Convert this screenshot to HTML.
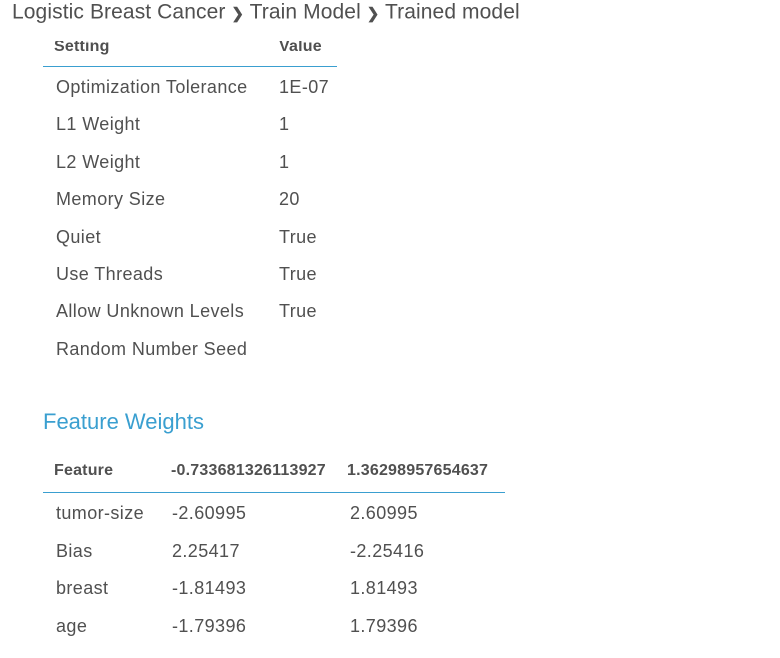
<!DOCTYPE html>
<html><head><meta charset="utf-8"><style>
body{margin:0;width:780px;height:658px;overflow:hidden;background:#fff;font-family:"Liberation Sans",sans-serif;color:#444;position:relative}
.t{position:absolute;white-space:nowrap;line-height:1;transform:translateY(-50%)}
.r{font-size:18px;color:#505050;letter-spacing:0.4px}
.h{font-size:16px;font-weight:bold;color:#505050;letter-spacing:0.2px}
.line{position:absolute;height:1px;background:#3a9fd0}
.bc{left:12px;top:12px;font-size:21px;color:#505050;letter-spacing:0.1px}
</style></head><body>
<div class="t h" style="left:54px;top:47px">Setting</div>
<div class="t h" style="left:279px;top:47px">Value</div>
<div style="position:absolute;left:0;top:0;width:400px;height:41px;background:#fff"></div>
<div class="t bc">Logistic Breast Cancer <b style="font-size:15px">&#x276F;</b> Train Model <b style="font-size:15px">&#x276F;</b> Trained model</div>
<div class="line" style="left:43px;top:66px;width:294px"></div>
<div id="settings"></div>
<div class="t" style="left:43px;top:422px;font-size:22px;color:#3a9fd0">Feature Weights</div>
<div class="t h" style="left:54px;top:471px">Feature</div>
<div class="t h" style="left:171px;top:471px">-0.733681326113927</div>
<div class="t h" style="left:347px;top:471px">1.36298957654637</div>
<div class="line" style="left:43px;top:492px;width:462px"></div>
<div id="features"></div>
<script>
const settingNames=["Optimization Tolerance","L1 Weight","L2 Weight","Memory Size","Quiet","Use Threads","Allow Unknown Levels","Random Number Seed"];
const settingValues=["1E-07","1","1","20","True","True","True",""];
const featureNames=["tumor-size","Bias","breast","age"];
const weightsA=["-2.60995","2.25417","-1.81493","-1.79396"];
const weightsB=["2.60995","-2.25416","1.81493","1.79396"];
function cell(parent,txt,x,y){const d=document.createElement('div');d.className='t r';d.style.left=x+'px';d.style.top=y+'px';d.textContent=txt;


parent.appendChild(d);}
const s=document.getElementById('settings');
settingNames.forEach((n,i)=>{const y=87+i*37.4;cell(s,n,56,y);cell(s,settingValues[i],279,y);});
const f=document.getElementById('features');
featureNames.forEach((n,i)=>{const y=513+i*37.6;cell(f,n,56,y);cell(f,weightsA[i],172,y);cell(f,weightsB[i],350,y);});
</script>
</body></html>
